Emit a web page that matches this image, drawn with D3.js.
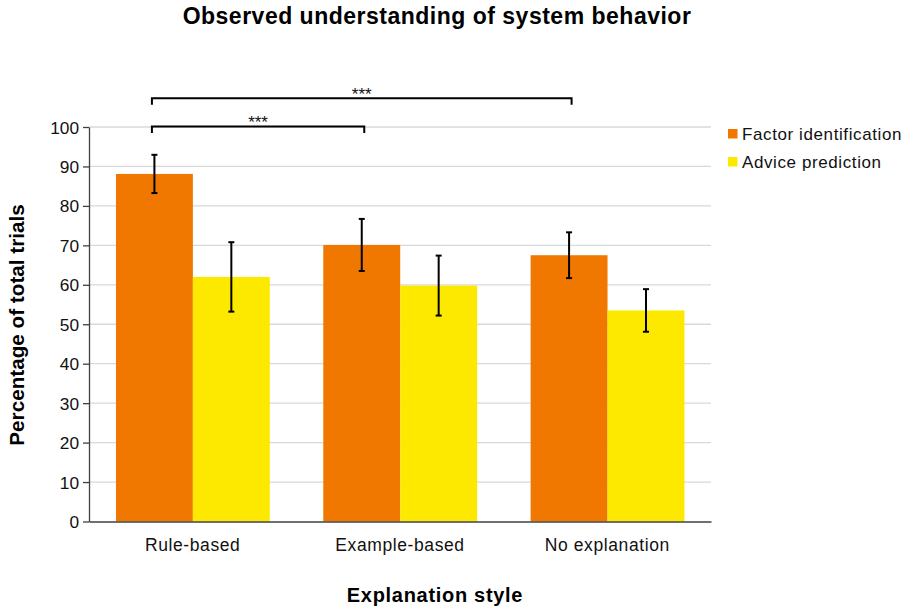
<!DOCTYPE html>
<html><head><meta charset="utf-8">
<script src="https://cdn.jsdelivr.net/npm/d3@7"></script>
<style>body{margin:0;background:#fff;font-family:"Liberation Sans",Arial,sans-serif;}</style>
</head><body><svg id="c" width="910" height="609"></svg>
<script>
const categories = ["Rule-based", "Example-based", "No explanation"];
const seriesNames = ["Factor identification", "Advice prediction"];
const factorValues = [88.1, 70.1, 67.5];
const factorErrors = [4.85, 6.6, 5.8];
const adviceValues = [62.0, 59.8, 53.5];
const adviceErrors = [8.8, 7.6, 5.4];
const yTicks = [0,10,20,30,40,50,60,70,80,90,100];
const seriesColors = ["#F07800", "#FDE900"];
// significance brackets: [fromCategory, toCategory, level value, label]
const brackets = [
  ["Rule-based", "Example-based", 100.1, "***"],
  ["Rule-based", "No explanation", 107.3, "***"]
];

const FONT = "Liberation Sans, Arial, sans-serif";
const svg = d3.select("#c").attr("font-family", FONT);
const m = {left: 89, right: 711, top: 127, bottom: 521.5};
const y = d3.scaleLinear().domain([0, 100]).range([m.bottom, m.top]);
const x0 = d3.scaleBand().domain(categories).range([m.left, m.right]).padding(0);
const x1 = d3.scaleBand().domain(seriesNames)
  .range([x0.bandwidth()*0.13, x0.bandwidth()*0.872]).padding(0);

const data = categories.map((c, i) => ({
  cat: c,
  vals: [
    {s: seriesNames[0], v: factorValues[i], e: factorErrors[i], col: seriesColors[0]},
    {s: seriesNames[1], v: adviceValues[i], e: adviceErrors[i], col: seriesColors[1]}
  ]
}));

// gridlines
svg.append("g").selectAll("line").data(yTicks.filter(d => d > 0)).join("line")
  .attr("x1", m.left).attr("x2", m.right)
  .attr("y1", d => y(d)).attr("y2", d => y(d))
  .attr("stroke", "#d9d9d9").attr("stroke-width", 1.3);

// bars
const g = svg.append("g").selectAll("g").data(data).join("g")
  .attr("transform", d => `translate(${x0(d.cat)},0)`);
g.selectAll("rect").data(d => d.vals).join("rect")
  .attr("x", d => x1(d.s)).attr("width", x1.bandwidth())
  .attr("y", d => y(d.v)).attr("height", d => y(0) - y(d.v))
  .attr("fill", d => d.col);

// error bars
const eb = g.selectAll("g.eb").data(d => d.vals).join("g").attr("class", "eb")
  .attr("stroke", "#000").attr("stroke-width", 2);
eb.append("line")
  .attr("x1", d => x1(d.s) + x1.bandwidth()/2).attr("x2", d => x1(d.s) + x1.bandwidth()/2)
  .attr("y1", d => y(d.v + d.e)).attr("y2", d => y(d.v - d.e));
[1, -1].forEach(sg => {
  eb.append("line")
    .attr("x1", d => x1(d.s) + x1.bandwidth()/2 - 3).attr("x2", d => x1(d.s) + x1.bandwidth()/2 + 3)
    .attr("y1", d => y(d.v + sg*d.e)).attr("y2", d => y(d.v + sg*d.e));
});

// axes
const yAxis = d3.axisLeft(y).tickValues(yTicks).tickSize(6).tickSizeOuter(0);
const ya = svg.append("g").attr("transform", `translate(${m.left},0)`).call(yAxis);
ya.select(".domain").attr("stroke", "#404040").attr("stroke-width", 1.3);
ya.selectAll(".tick line").attr("stroke", "#404040").attr("stroke-width", 1.3);
ya.selectAll(".tick text").attr("font-size", 17.3).attr("fill", "#111")
  .attr("font-family", FONT).attr("x", -10).attr("dy", "0.35em");

const xAxis = d3.axisBottom(x0).tickSize(0).tickSizeOuter(0);
const xa = svg.append("g").attr("transform", `translate(0,${m.bottom})`).call(xAxis);
xa.select(".domain").attr("stroke", "#404040").attr("stroke-width", 1.3);
xa.selectAll(".tick text").attr("font-size", 17.5).attr("letter-spacing", 0.6).attr("fill", "#111")
  .attr("font-family", FONT).attr("y", 17);

// brackets
const orangeCenter = c => x0(c) + x1(seriesNames[0]) + x1.bandwidth()/2;
brackets.forEach(([a, b, lv, lab]) => {
  const xa_ = orangeCenter(a) - 2.5, xb_ = orangeCenter(b) + 2.5, yy = y(lv);
  svg.append("path")
    .attr("d", `M${xa_},${yy+6.5}V${yy}H${xb_}V${yy+6.5}`)
    .attr("fill", "none").attr("stroke", "#000").attr("stroke-width", 2);
  svg.append("text").attr("x", (xa_ + xb_)/2).attr("y", yy + 1.5)
    .attr("text-anchor", "middle").attr("font-size", 17).attr("fill", "#111").text(lab);
});

// legend
const lg = svg.append("g").selectAll("g").data(seriesNames).join("g")
  .attr("transform", (d, i) => `translate(728,${129 + i*28})`);
lg.append("rect").attr("width", 9.5).attr("height", 9.5).attr("fill", (d, i) => seriesColors[i]);
lg.append("text").attr("x", 14).attr("y", 10.5)
  .attr("font-size", 17).attr("letter-spacing", 0.6).attr("fill", "#111").text(d => d);

// titles
svg.append("text").attr("x", 437).attr("y", 24).attr("text-anchor", "middle")
  .attr("font-size", 23).attr("letter-spacing", 0.5).attr("font-weight", "bold").attr("fill", "#000")
  .text("Observed understanding of system behavior");
svg.append("text").attr("x", 435).attr("y", 601.5).attr("text-anchor", "middle")
  .attr("font-size", 20).attr("letter-spacing", 0.7).attr("font-weight", "bold").attr("fill", "#000")
  .text("Explanation style");
svg.append("text").attr("transform", `translate(24,325) rotate(-90)`)
  .attr("text-anchor", "middle")
  .attr("font-size", 20.7).attr("font-weight", "bold").attr("fill", "#000")
  .text("Percentage of total trials");
</script></body></html>
